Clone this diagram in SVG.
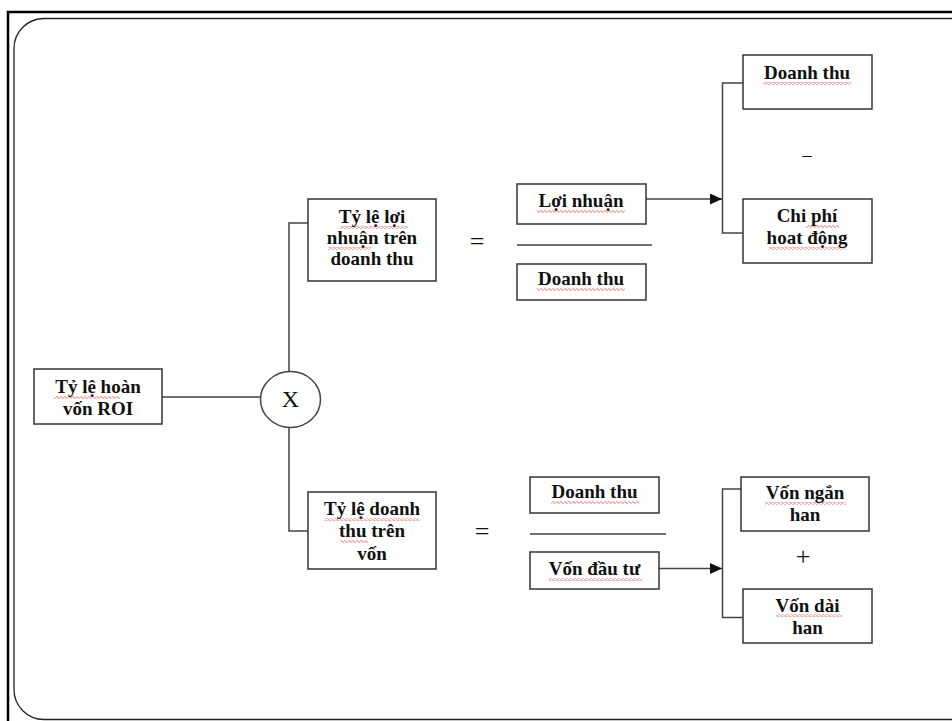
<svg xmlns="http://www.w3.org/2000/svg" width="952" height="721" viewBox="0 0 952 721">
<style>
.box{fill:#fff;stroke:#333;stroke-width:1.5}
.t{font-family:"Liberation Serif","Times New Roman",serif;font-weight:bold;font-size:19px;fill:#111;text-anchor:middle}
.op{font-family:"Liberation Serif","Times New Roman",serif;font-size:26px;fill:#111;text-anchor:middle}
.ln{fill:none;stroke:#444;stroke-width:1.5}
.sq{fill:url(#wave)}
</style>
<defs>
<pattern id="wave" patternUnits="userSpaceOnUse" width="4" height="3">
<path d="M0 1.5 L1 0.5 L3 2.5 L4 1.5" fill="none" stroke="#e03030" stroke-width="0.8"/>
</pattern>
<marker id="arr" viewBox="0 0 12 11" refX="12" refY="5.5" markerWidth="12" markerHeight="11" markerUnits="userSpaceOnUse" orient="auto">
<path d="M0 0 L12 5.5 L0 11 Z" fill="#111"/>
</marker>
</defs>
<rect width="952" height="721" fill="#fff"/>
<g id="frame">
<path d="M8 721 V12 H952" fill="none" stroke="#000" stroke-width="2.5"/>
<rect x="14" y="18.5" width="970" height="701" rx="30" ry="30" fill="none" stroke="#222" stroke-width="1.3"/>
</g>
<g id="connectors">
<line class="ln" x1="162" y1="397" x2="260" y2="397"/>
<path class="ln" d="M289 371 V223 H308"/>
<path class="ln" d="M289 427 V531 H308"/>
<line class="ln" x1="517" y1="245" x2="652" y2="245"/>
<line class="ln" x1="530" y1="534" x2="666" y2="534"/>
<line class="ln" x1="646" y1="199" x2="722" y2="199" marker-end="url(#arr)" stroke="#111"/>
<path class="ln" d="M743 83 H722.5 V233 H743"/>
<line class="ln" x1="659" y1="568.5" x2="722" y2="568.5" marker-end="url(#arr)" stroke="#111"/>
<path class="ln" d="M741 489 H722.5 V617.5 H743"/>
</g>
<g id="roi">
<rect class="box" x="34" y="369" width="128" height="55"/>
<rect class="sq" x="54" y="396" width="66" height="3"/>
<text class="t" x="98" y="393">Tỷ lệ hoàn</text>
<text class="t" x="98" y="415">vốn ROI</text>
</g>
<g id="multiply">
<ellipse cx="290.5" cy="399.5" rx="30" ry="28" fill="#fff" stroke="#444" stroke-width="1.5"/>
<text class="op" x="290.5" y="407" style="font-size:24px">X</text>
</g>
<g id="ty-le-loi-nhuan">
<rect class="box" x="308" y="199" width="128" height="82"/>
<rect class="sq" x="340" y="226" width="68" height="3"/>
<rect class="sq" x="328" y="247" width="43" height="3"/>
<text class="t" x="372" y="223">Tỷ lệ lợi</text>
<text class="t" x="372" y="244">nhuận trên</text>
<text class="t" x="372" y="265">doanh thu</text>
</g>
<g id="eq1"><text class="op" x="477" y="250">=</text></g>
<g id="loi-nhuan">
<rect class="box" x="517" y="184" width="129" height="40"/>
<rect class="sq" x="537" y="210" width="88" height="3"/>
<text class="t" x="581" y="207">Lợi nhuận</text>
</g>
<g id="doanh-thu-1">
<rect class="box" x="517" y="264" width="129" height="36"/>
<rect class="sq" x="537" y="288" width="88" height="3"/>
<text class="t" x="581" y="285">Doanh thu</text>
</g>
<g id="doanh-thu-2">
<rect class="box" x="743" y="55" width="129" height="54"/>
<rect class="sq" x="763" y="82" width="88" height="3"/>
<text class="t" x="807" y="79">Doanh thu</text>
</g>
<g id="minus"><text class="op" x="807" y="161" style="font-size:19px">–</text></g>
<g id="chi-phi">
<rect class="box" x="743" y="199" width="129" height="64"/>
<rect class="sq" x="806" y="225" width="33" height="3"/>
<rect class="sq" x="769" y="247" width="76" height="3"/>
<text class="t" x="807" y="222">Chi phí</text>
<text class="t" x="807" y="244">hoat động</text>
</g>
<g id="ty-le-doanh-thu">
<rect class="box" x="308" y="492" width="128" height="77"/>
<rect class="sq" x="325" y="518" width="94" height="3"/>
<rect class="sq" x="340" y="540" width="28" height="3"/>
<text class="t" x="372" y="515">Tỷ lệ doanh</text>
<text class="t" x="372" y="537">thu trên</text>
<text class="t" x="372" y="560">vốn</text>
</g>
<g id="eq2"><text class="op" x="482" y="540">=</text></g>
<g id="doanh-thu-3">
<rect class="box" x="530" y="477" width="129" height="36"/>
<rect class="sq" x="551" y="501" width="88" height="3"/>
<text class="t" x="594.5" y="498">Doanh thu</text>
</g>
<g id="von-dau-tu">
<rect class="box" x="530" y="552" width="129" height="37"/>
<rect class="sq" x="549" y="578" width="93" height="3"/>
<text class="t" x="594.5" y="575">Vốn đầu tư</text>
</g>
<g id="von-ngan-han">
<rect class="box" x="741" y="477" width="128" height="54"/>
<rect class="sq" x="765" y="502" width="81" height="3"/>
<text class="t" x="805" y="499">Vốn ngắn</text>
<text class="t" x="805" y="521">han</text>
</g>
<g id="plus"><text class="op" x="803" y="565">+</text></g>
<g id="von-dai-han">
<rect class="box" x="743" y="589" width="129" height="54"/>
<rect class="sq" x="776" y="614" width="66" height="3"/>
<text class="t" x="807.5" y="612">Vốn dài</text>
<text class="t" x="807.5" y="634">han</text>
</g>
</svg>
